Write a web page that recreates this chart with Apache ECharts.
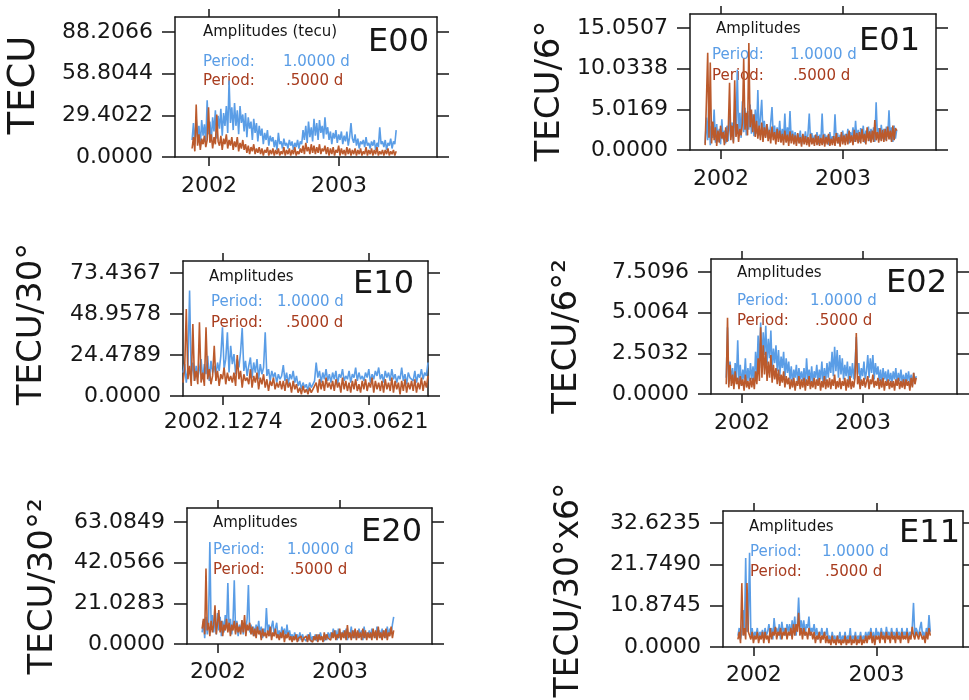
<!DOCTYPE html>
<html><head><meta charset="utf-8">
<script src="https://cdn.jsdelivr.net/npm/echarts@6/dist/echarts.min.js"></script>
<style>html,body{margin:0;padding:0;background:#fff}#c{width:969px;height:700px}</style>
</head><body><div id="c"></div>
<script>
// ---- sample times (regular grid of the amplitude series, decimal years) ----
const T_START = 2001.87, T_END = 2003.44, N_SAMPLES = 150;

// ---- tick values / labels ----
const xTicksYear = [2002, 2003];
const xTicksE10 = [2002.1274, 2003.0621];
const E00_yTicks = [0, 29.4022, 58.8044, 88.2066];
const E01_yTicks = [0, 5.0169, 10.0338, 15.0507];
const E10_yTicks = [0, 24.4789, 48.9578, 73.4367];
const E02_yTicks = [0, 2.5032, 5.0064, 7.5096];
const E20_yTicks = [0, 21.0283, 42.0566, 63.0849];
const E11_yTicks = [0, 10.8745, 21.7490, 32.6235];

// ---- series values (Period 1.0000 d = blue, Period .5000 d = brown) ----
const E00_day = [
  12,24,9,27,14,22,8,26,15,23, 10,40,16,25,11,28,18,33,13,29, 20,34,15,31,22,36,17,54,24,35,
  19,38,22,33,16,36,24,30,18,31, 14,28,20,25,12,27,17,24,11,22, 15,20,9,17,12,19,8,15,11,14,
  7,12,5,17,9,11,6,13,8,10, 6,12,8,11,5,10,7,12,6,11, 9,19,12,22,10,25,14,21,11,27,
  15,24,12,26,17,22,13,28,16,21, 12,18,9,17,13,19,10,16,12,18, 9,15,11,18,8,14,24,13,10,16,
  8,13,6,11,9,12,7,14,8,10, 6,11,8,12,5,10,7,21,9,11, 7,12,5,10,8,13,6,11,9,19];
const E00_half = [
  6,14,4,37,8,16,5,13,9,15, 7,12,35,10,16,6,14,9,30,11, 8,15,5,13,9,16,6,12,8,14,
  5,11,7,14,4,10,6,12,5,9, 3,8,2,7,4,9,2,6,3,7, 2,6,1,5,3,7,1,5,2,6,
  1,5,2,6,1,4,2,7,1,5, 2,6,1,5,2,7,1,4,2,6, 3,8,2,10,4,7,2,9,3,8,
  2,7,3,9,2,6,4,8,2,7, 1,6,2,7,1,5,3,8,1,6, 2,5,1,7,2,6,1,5,2,6,
  1,5,2,6,1,4,2,7,1,5, 2,6,1,5,2,7,1,4,2,5, 1,5,2,6,1,4,2,5,1,4];

const E01_day = [
  0.8,4.0,1.2,6.4,0.6,3.0,1.5,5.0,0.9,3.2, 1.0,2.6,0.7,3.8,1.3,2.4,0.8,3.0,1.1,4.2,
  1.6,3.4,1.0,5.0,1.8,9.9,2.0,4.6,1.5,6.0, 2.2,5.2,1.8,4.8,2.5,5.6,2.0,4.4,1.7,5.0,
  2.0,7.4,1.8,4.0,6.2,2.0,3.6,1.6,3.2,2.4, 1.4,3.4,5.3,1.6,3.0,1.2,2.8,1.5,3.6,1.0,
  2.6,1.3,4.5,1.0,2.8,1.4,4.8,1.1,2.4,1.2, 2.2,0.8,2.0,1.1,2.4,0.7,1.9,1.0,2.3,0.9,
  2.0,4.5,1.0,2.1,0.8,1.8,1.1,2.2,0.7,1.9, 1.0,4.5,0.8,2.0,1.2,1.8,0.6,2.2,1.0,1.7,
  0.9,4.4,1.2,2.1,0.8,1.9,1.3,2.4,0.9,2.0, 1.1,2.6,0.8,2.2,1.4,2.8,1.0,3.6,1.2,2.5,
  1.0,2.7,1.4,3.0,0.9,2.4,1.5,2.9,1.1,2.6, 1.3,2.8,1.0,5.9,1.6,2.7,1.2,3.1,1.4,2.6,
  1.2,2.9,1.6,4.9,1.3,2.8,1.0,3.0,1.4,2.5];
const E01_half = [
  0.6,6.0,12.0,1.5,10.8,0.8,3.5,1.2,2.8,0.5, 2.4,0.9,3.0,1.4,2.2,0.6,2.8,1.0,2.5,8.3,
  1.2,3.0,0.8,8.6,1.6,3.2,1.0,2.6,1.8,3.4, 11.3,2.5,4.6,1.8,13.2,2.8,5.0,2.2,4.4,1.6,
  3.6,1.4,3.0,1.2,3.4,1.0,2.8,1.5,3.2,1.1, 2.5,0.8,2.9,1.2,2.2,0.7,2.6,1.0,2.4,0.9,
  2.0,0.6,2.4,0.9,1.9,0.5,2.3,0.8,2.0,0.7, 1.8,0.5,2.1,0.8,1.6,0.4,2.0,0.7,1.7,0.6,
  1.6,0.4,2.0,0.7,1.5,0.5,1.9,0.6,1.7,0.5, 1.5,0.6,1.9,0.4,1.6,0.7,2.0,0.5,1.4,0.6,
  1.7,0.5,2.1,0.8,1.6,0.4,2.2,0.7,1.8,0.6, 2.0,0.7,2.4,0.9,1.8,0.6,2.5,1.0,2.1,0.8,
  2.2,0.8,2.6,1.0,2.0,0.7,2.8,1.1,2.3,0.9, 2.4,1.0,3.7,1.2,2.2,0.9,2.7,1.1,2.5,1.0,
  2.6,1.1,2.9,1.3,2.4,1.0,3.0,1.2,2.7,2.4];

const E10_day = [
  14,19,8,17,63,12,20,9,18,11, 16,22,10,19,13,24,9,21,14,18, 12,20,15,24,41,16,22,38,14,30,
  19,25,13,22,17,26,40.6,15,21,12, 18,23,11,20,14,22,10,19,13,17, 38,12,16,9,15,11,14,8,13,10,
  12,18.5,9,14,7,13,10,15,8,12, 6,9,4,8,5,7,3,8,5,7, 9,20,11,15,8,14,10,16,9,13,
  8,14,10,15,7,13,11,16,9,12, 10,15,8,13,11,17,9,14,10,12, 9,14,11,16,8,13,10,15,12,17,
  10,13,8,15,11,14,9,16,10,13, 8,12,10,17,9,13,7,14,11,12, 9,15,8,13,11,16,10,14,12,20];
const E10_half = [
  8,16,52,10,18,6,43,9,15,7, 44,8,14,6,41,10,16,7,12,30, 9,15,6,13,10,17,7,14,9,12,
  8,14,6,24.5,10,15,5,13,9,11, 7,16,5,12,8,14,4,11,7,13, 5,10,3,9,6,11,4,8,5,9,
  4,9,3,10,5,8,2,9,4,7, 2,5,1,6,2,4,1,5,2,4, 3,8,2,10,4,9,3,11,5,8,
  4,9,3,10,5,8,2,11,4,9, 3,8,2,9,4,10,3,7,2,9, 4,10,3,8,5,11,2,9,4,8,
  3,9,2,10,4,8,3,11,2,9, 4,8,1,9,3,10,2,8,4,9, 3,10,2,8,4,11,3,9,5,12];

const E02_day = [
  1.0,4.1,0.6,2.0,0.8,1.6,0.5,1.9,0.9,3.3, 0.7,1.8,0.5,1.5,0.9,2.2,0.6,1.6,0.8,1.9,
  0.9,1.7,0.6,2.6,1.2,3.6,1.6,4.4,2.0,3.8, 2.4,4.2,1.8,3.4,2.2,3.9,1.5,2.8,1.9,3.0,
  1.4,2.7,1.1,2.3,1.6,2.6,1.0,2.2,1.3,2.0, 0.9,1.7,0.6,1.5,1.0,1.8,0.7,1.6,0.9,1.4,
  0.8,1.6,0.5,2.2,0.9,1.5,0.7,1.7,0.6,1.4, 1.0,1.8,0.7,1.5,0.9,2.0,0.6,1.6,0.8,1.9,
  1.0,2.0,1.3,2.6,1.1,2.9,1.4,2.7,1.0,2.4, 1.2,2.2,0.9,1.8,1.1,2.0,0.8,1.7,1.0,1.9,
  0.9,1.8,3.5,1.2,1.9,0.8,1.6,1.1,2.0,0.9, 1.4,2.4,1.0,2.2,1.3,2.4,0.9,1.9,1.2,1.7,
  0.8,1.5,0.6,1.6,0.9,1.4,0.7,1.5,0.8,1.3, 0.7,1.4,0.9,1.6,0.6,1.3,0.8,1.5,0.7,1.2,
  0.6,1.3,0.8,1.4,0.7,1.2,0.5,1.3,0.8,1.1];
const E02_half = [
  0.6,4.7,0.4,1.8,0.5,1.2,0.3,1.4,0.6,1.0, 0.3,1.1,0.5,0.9,0.2,1.2,0.4,0.8,0.3,1.0,
  0.4,1.0,0.3,1.4,0.6,2.2,0.8,4.1,1.0,3.0, 1.2,2.6,0.8,2.0,1.0,2.4,0.7,1.8,0.9,1.6,
  0.6,1.5,0.5,1.2,0.7,1.4,0.4,1.1,0.6,1.0, 0.3,0.9,0.4,1.0,0.2,0.8,0.5,1.1,0.3,0.9,
  0.4,1.0,0.2,0.9,0.5,1.1,0.3,0.8,0.4,1.0, 0.3,0.9,0.5,1.0,0.2,0.8,0.4,1.1,0.3,0.9,
  0.4,1.0,0.3,0.9,0.5,1.2,0.3,0.8,0.4,1.0, 0.3,0.8,0.5,1.0,0.2,0.9,0.4,1.1,0.3,0.8,
  0.4,1.0,3.75,0.6,1.1,0.3,0.9,0.5,1.0,0.4, 0.5,1.1,0.3,0.9,0.6,1.2,0.4,0.8,0.5,1.0,
  0.3,0.9,0.4,1.0,0.2,0.8,0.5,0.9,0.3,0.8, 0.4,0.8,0.2,0.9,0.5,1.0,0.3,0.8,0.4,0.9,
  0.3,0.9,0.5,0.8,0.2,1.0,0.4,1.3,0.6,1.0];

const E20_day = [
  6,12,3,14,5,11,52.7,8,15,6, 13,5,16,7,14,4,12,6,15,8, 31.5,7,13,5,11,33,6,12,4,10,
  6,12,5,11,7,13,30.5,6,10,5, 9,4,10,6,12,5,9,3,8,5, 18.6,6,10,4,9,12,5,8,11,4,
  7,3,9,5,8,3,10,4,7,3, 5,2,6,3,5,1.5,6,2,5,3, 4,1.5,5,2,6,1,4,2,5,1.5,
  5,2,6,3,4,1.5,5,2,6,3, 6,3,8,4,7,2,8,3,6,4, 7,3,8,2,6,4,9,3,7,3,
  6,3,8,4,7,2,9,3,6,4, 7,3,8,4,6,3,9,4,7,3, 8,4,7,3,9,4,8,5,10,14];
const E20_half = [
  8,13,5,39,7,11,4,12,6,10, 20,5,11,17.5,6,12,4,10,7,13, 6,11,4,10,7,12,5,11,6,9,
  5,12.4,6,15,4,10,7,11,5,9, 4,8,3,9,5,7,2,8,4,6, 3,7,4,9,2,6,4,8,3,5,
  2,6,3,7,1,5,3,6,2,4, 1,4,2,5,1,3,2,4,1,3, 2,4,1,5,2,3,1,4,2,5,
  1,5,2,4,1,6,2,5,3,4, 2,6,3,7,2,5,3,8,2,6, 3,7,2,9.8,3,6,2,7,3,8,
  2,7,3,6,2,8,3,7,2,6, 3,6,2,8,3,7,2,9,3,6, 2,7,3,8,2,6,4,9,3,7];

const E11_day = [
  3,5,2,4,9.7,3,23.4,4,6,24.8, 3,5,2,4,3,5,2,4,3,4.5, 2,5,3,4,6,3,5,2,7.6,4,
  5,3,6,2,6.6,4,5,3,6,4, 6,3,7,4,8,3,6,13,5,7, 4,7,3,6,5,8,3,5,4,6,
  3,5,2,4,3,5,2,4,3,5, 2,3,1,4,2,3,1,3,2,4, 1,3,2,4,1,3,2,5,1,3,
  2,4,1,3,2,4,1,3,2,4, 2,4,3,5,2,4,1,5,3,4, 2,5,3,4,2,5.3,3,4,2,5,
  3,4,2,5,3,4,2,5,3,4, 3,5,2,4,3,5,11.6,3,5,4, 3,5,6.6,3,4,2,5,3,8.4,4];
const E11_half = [
  2,4,1,16.8,3,5,2,16.8,4,3, 2,4,1,3,2,4,1,3,2,4, 1,4,2,3,1,5,2,4,3,5.3,
  2,4,3,5,2,4,3,5,2,4, 3,5,2,6,3,6,4,9,3,5, 2,5,3,4,2,5,3,4,2,4,
  1,3,2,4,1,3,2,4,1,3, 1,2,0.5,3,1,2,0.5,3,1,2, 0.5,2,1,3,0.5,2,1,3,0.5,2,
  1,3,0.5,2,1,3,0.5,2,1,3, 1,3,2,4,1,3,0.5,3,2,3, 1,4,2,3,1,4,2,3,1,4,
  2,3,1,4,2,3,1,4,2,3, 2,4,1,3,2,5.3,3,2,4,3, 2,4,3,2,3,1,4,2,5,3];

// ---- layout ----
const FONT = '"DejaVu Sans", sans-serif';
const BLUE = '#5a9de6', BROWN_LINE = '#bb5a2c', BROWN_TEXT = '#a83c1e', INK = '#161616';
const panels = [
  {id:'E00', name:'TECU', nameFont:37, day:E00_day, half:E00_half, yTicks:E00_yTicks, xTicks:xTicksYear,
   grid:{left:175, top:17, width:262, height:140}, xMin:2001.7385, xMax:2003.754, yMax:98.8, xMargin:18,
   nameX:24.5, nameY:85, labelX:429, labelY:43, legX:203, legY:32, perX:203, valX:283, val2X:286, row1:62, row2:81, title:'Amplitudes (tecu)'},
  {id:'E01', name:'TECU/6°', nameFont:34, day:E01_day, half:E01_half, yTicks:E01_yTicks, xTicks:xTicksYear,
   grid:{left:690, top:14, width:246, height:136}, xMin:2001.746, xMax:2003.762, yMax:16.78, xMargin:18,
   nameX:550, nameY:91, labelX:920, labelY:41.5, legX:716, legY:29, perX:712, valX:790, val2X:793, row1:55, row2:76, title:'Amplitudes'},
  {id:'E10', name:'TECU/30°', nameFont:34, day:E10_day, half:E10_half, yTicks:E10_yTicks, xTicks:xTicksE10,
   grid:{left:183, top:261, width:245, height:135}, xMin:2001.87, xMax:2003.44, yMax:80.6, xMargin:15,
   nameX:32, nameY:324, labelX:414, labelY:285, legX:209, legY:277, perX:211, valX:277, val2X:286, row1:302, row2:323, title:'Amplitudes'},
  {id:'E02', name:'TECU/6°²', nameFont:34, day:E02_day, half:E02_half, yTicks:E02_yTicks, xTicks:xTicksYear,
   grid:{left:711, top:259, width:246, height:135}, xMin:2001.744, xMax:2003.777, yMax:8.31, xMargin:18,
   nameX:567.5, nameY:336.5, labelX:947, labelY:283.5, legX:737, legY:273, perX:737, valX:810, val2X:815, row1:301, row2:321, title:'Amplitudes'},
  {id:'E20', name:'TECU/30°²', nameFont:34, day:E20_day, half:E20_half, yTicks:E20_yTicks, xTicks:xTicksYear,
   grid:{left:187, top:508, width:245, height:136}, xMin:2001.746, xMax:2003.754, yMax:70.3, xMargin:17,
   nameX:43.5, nameY:586.5, labelX:422, labelY:532.5, legX:213, legY:523, perX:213, valX:287, val2X:290, row1:550, row2:570, title:'Amplitudes'},
  {id:'E11', name:'TECU/30°x6°', nameFont:33, day:E11_day, half:E11_half, yTicks:E11_yTicks, xTicks:xTicksYear,
   grid:{left:723, top:511, width:240, height:136}, xMin:2001.748, xMax:2003.707, yMax:35.78, xMargin:17,
   nameX:569.5, nameY:590, labelX:960, labelY:533.5, legX:749, legY:527, perX:750, valX:822, val2X:825, row1:552, row2:572, title:'Amplitudes'}
];

const times = Array.from({length:N_SAMPLES}, (_, i) => T_START + i * (T_END - T_START) / (N_SAMPLES - 1));

const grids = [], xAxes = [], yAxes = [], series = [], graphics = [];
const line = {show:true, lineStyle:{color:INK, width:1.5}};
panels.forEach((p, k) => {
  grids.push(Object.assign({containLabel:false}, p.grid));
  const xLab = (v) => { const i = p.xTicks.findIndex(t => Math.abs(t - v) < 1e-6); return i < 0 ? '' : (p.xTicks === xTicksE10 ? v.toFixed(4) : String(Math.round(v))); };
  xAxes.push({type:'value', gridIndex:k, position:'bottom', min:p.xMin, max:p.xMax, axisLine:Object.assign({onZero:false}, line),
    axisTick:{show:true, inside:false, length:9, customValues:p.xTicks, lineStyle:{color:INK, width:1.5}},
    axisLabel:{show:true, customValues:p.xTicks, margin:p.xMargin, formatter:xLab, color:INK, fontFamily:FONT, fontSize:22},
    splitLine:{show:false}});
  xAxes.push({type:'value', gridIndex:k, position:'top', min:p.xMin, max:p.xMax, axisLine:Object.assign({onZero:false}, line),
    axisTick:{show:true, inside:false, length:8, customValues:p.xTicks, lineStyle:{color:INK, width:1.5}},
    axisLabel:{show:false}, splitLine:{show:false}});
  yAxes.push({type:'value', gridIndex:k, position:'left', min:0, max:p.yMax, axisLine:Object.assign({onZero:false}, line),
    axisTick:{show:true, inside:false, length:13, customValues:p.yTicks, lineStyle:{color:INK, width:1.5}},
    axisLabel:{show:true, customValues:p.yTicks, margin:22, formatter:(v)=>v.toFixed(4), color:INK, fontFamily:FONT, fontSize:22},
    splitLine:{show:false}});
  yAxes.push({type:'value', gridIndex:k, position:'right', min:0, max:p.yMax, axisLine:Object.assign({onZero:false}, line),
    axisTick:{show:true, inside:false, length:12, customValues:p.yTicks, lineStyle:{color:INK, width:1.5}},
    axisLabel:{show:false}, splitLine:{show:false}});
  [[p.day, BLUE, 'Period 1.0000 d'], [p.half, BROWN_LINE, 'Period .5000 d']].forEach(([vals, col, nm]) => {
    series.push({type:'line', name:p.id + ' ' + nm, xAxisIndex:2*k, yAxisIndex:2*k, showSymbol:false, symbol:'none',
      animation:false, lineStyle:{color:col, width:1.6}, itemStyle:{color:col},
      data: times.map((t, i) => [t, vals[i]])});
  });
  // texts
  graphics.push({type:'text', x:p.nameX, y:p.nameY, rotation:Math.PI/2,
    style:{text:p.name, font:`${p.nameFont}px ${FONT}`, fill:INK, align:'center', verticalAlign:'middle'}});
  graphics.push({type:'text', x:p.labelX, y:p.labelY,
    style:{text:p.id, font:`32px ${FONT}`, fill:INK, align:'right', verticalAlign:'middle'}});
  graphics.push({type:'text', x:p.legX, y:p.legY,
    style:{text:p.title, font:`15px ${FONT}`, fill:INK, align:'left', verticalAlign:'middle'}});
  graphics.push({type:'text', x:p.perX, y:p.row1, style:{text:'Period:', font:`15px ${FONT}`, fill:BLUE, align:'left', verticalAlign:'middle'}});
  graphics.push({type:'text', x:p.valX, y:p.row1, style:{text:'1.0000 d', font:`15px ${FONT}`, fill:BLUE, align:'left', verticalAlign:'middle'}});
  graphics.push({type:'text', x:p.perX, y:p.row2, style:{text:'Period:', font:`15px ${FONT}`, fill:BROWN_TEXT, align:'left', verticalAlign:'middle'}});
  graphics.push({type:'text', x:p.val2X, y:p.row2, style:{text:'.5000 d', font:`15px ${FONT}`, fill:BROWN_TEXT, align:'left', verticalAlign:'middle'}});
});

const chart = echarts.init(document.getElementById('c'), null, {renderer:'canvas'});
chart.setOption({animation:false, backgroundColor:'#fff', grid:grids, xAxis:xAxes, yAxis:yAxes, series:series, graphic:graphics});
</script></body></html>
